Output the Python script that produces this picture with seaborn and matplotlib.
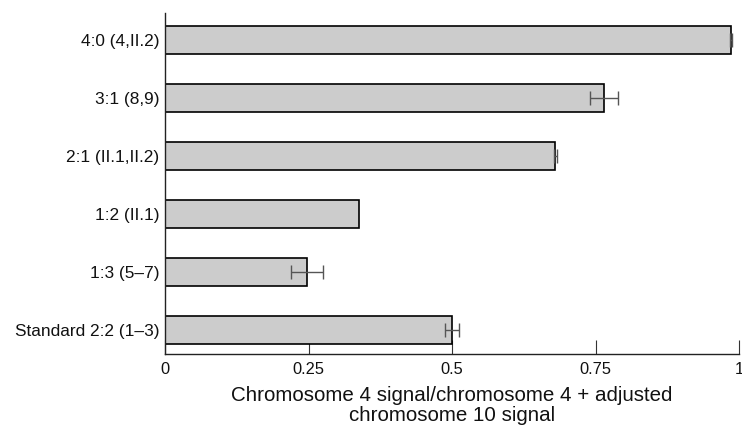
import matplotlib
matplotlib.use("Agg")
import matplotlib.pyplot as plt
import seaborn as sns
import pandas as pd

categories = ["4:0 (4,II.2)", "3:1 (8,9)", "2:1 (II.1,II.2)", "1:2 (II.1)", "1:3 (5–7)", "Standard 2:2 (1–3)"]
values = [0.986, 0.765, 0.680, 0.338, 0.247, 0.500]
errors = [0.002, 0.025, 0.003, 0.0, 0.028, 0.013]
xticks = [0, 0.25, 0.5, 0.75, 1]
xtick_labels = ["0", "0.25", "0.5", "0.75", "1"]

sns.set_theme(style="white")
plt.rcParams['font.family'] = ['Liberation Sans', 'DejaVu Sans']
plt.rcParams['text.color'] = '#111111'
plt.rcParams['xtick.color'] = '#111111'
plt.rcParams['ytick.color'] = '#111111'
plt.rcParams['axes.labelcolor'] = '#111111'

df = pd.DataFrame({"category": categories, "value": values})

fig = plt.figure(figsize=(7.42, 4.30), dpi=100)
ax = fig.add_axes([165/742, 1 - 354/430, 574/742, (354 - 13)/430])

sns.barplot(data=df, x="value", y="category", order=categories, orient="h",
            color="#cccccc", edgecolor="black", linewidth=1.2, width=0.48,
            saturation=1, errorbar=None, ax=ax)

ypos = list(range(len(categories)))
for y, v, e in zip(ypos, values, errors):
    if e > 0:
        ax.errorbar(v, y, xerr=e, fmt="none", ecolor="#555555", elinewidth=1.0,
                    capsize=5, capthick=1.0)

ax.set_xlim(0, 1)
ax.set_ylim(5.41, -0.47)
ax.set_xticks(xticks)
ax.set_xticklabels(xtick_labels)
ax.tick_params(axis="x", bottom=True, direction="in", length=10, width=0.8,
               color="#333333", labelsize=11.8, pad=5.5)
ax.tick_params(axis="y", left=False, length=0, labelsize=12.4, pad=4)
for s in ["top", "right"]:
    ax.spines[s].set_visible(False)
for s in ["left", "bottom"]:
    ax.spines[s].set_color("#222222")
    ax.spines[s].set_linewidth(1.0)
ax.set_ylabel("")
ax.set_xlabel("Chromosome 4 signal/chromosome 4 + adjusted\nchromosome 10 signal",
              fontsize=14.8, labelpad=6.5, linespacing=1.1)

fig.savefig("out.png", dpi=100)
